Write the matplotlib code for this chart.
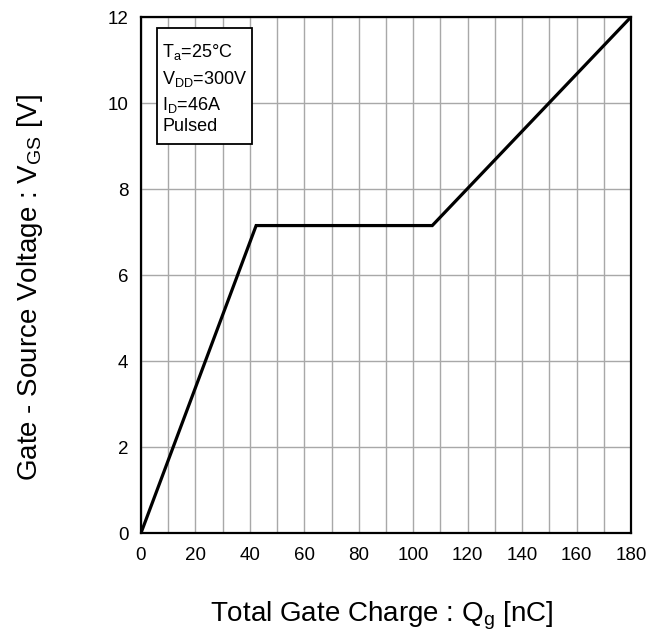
import matplotlib.pyplot as plt
from matplotlib.patches import Rectangle

plt.rcParams['font.family'] = ['Liberation Sans', 'DejaVu Sans']

# gate charge curve (nC, V)
qg = [0, 42.3, 107, 180]
vgs = [0, 7.15, 7.15, 12]

x_ticks = [0, 20, 40, 60, 80, 100, 120, 140, 160, 180]
y_ticks = [0, 2, 4, 6, 8, 10, 12]

cond_lines = ['T$_\\mathregular{a}$=25°C', 'V$_\\mathregular{DD}$=300V',
              'I$_\\mathregular{D}$=46A', 'Pulsed']

fig = plt.figure(figsize=(6.61, 6.32), dpi=100)
ax = fig.add_axes([0.2133, 0.1566, 0.7413, 0.8165])

ax.plot(qg, vgs, color='black', lw=2.3, solid_joinstyle='miter', zorder=3)

ax.set_xlim(0, 180)
ax.set_ylim(0, 12)
ax.set_xticks(x_ticks)
ax.set_yticks(y_ticks)
ax.set_xticks(range(0, 181, 10), minor=True)
ax.grid(True, which='both', axis='x', color='#a8a8a8', lw=1)
ax.grid(True, which='major', axis='y', color='#a8a8a8', lw=1)
ax.tick_params(which='both', length=0, labelsize=13.5)
ax.tick_params(axis='x', pad=10)
ax.tick_params(axis='y', pad=9)
for s in ax.spines.values():
    s.set_linewidth(1.6)

ax.set_xlabel('Total Gate Charge : Q$_\\mathregular{g}$ [nC]', fontsize=20)
ax.set_ylabel('Gate - Source Voltage : V$_\\mathregular{GS}$ [V]', fontsize=20)
ax.xaxis.set_label_coords(0.492, -0.129)
ax.yaxis.set_label_coords(-0.196, 0.475)

# conditions box
ax.add_patch(Rectangle((6.0, 9.05), 34.8, 2.69, fc='white', ec='black', lw=1.3, zorder=4))
for txt, yb in zip(cond_lines, [11.06, 10.44, 9.84, 9.35]):
    ax.text(7.8, yb, txt, fontsize=13, va='baseline', ha='left', zorder=5)

fig.savefig('out.png', dpi=100)
